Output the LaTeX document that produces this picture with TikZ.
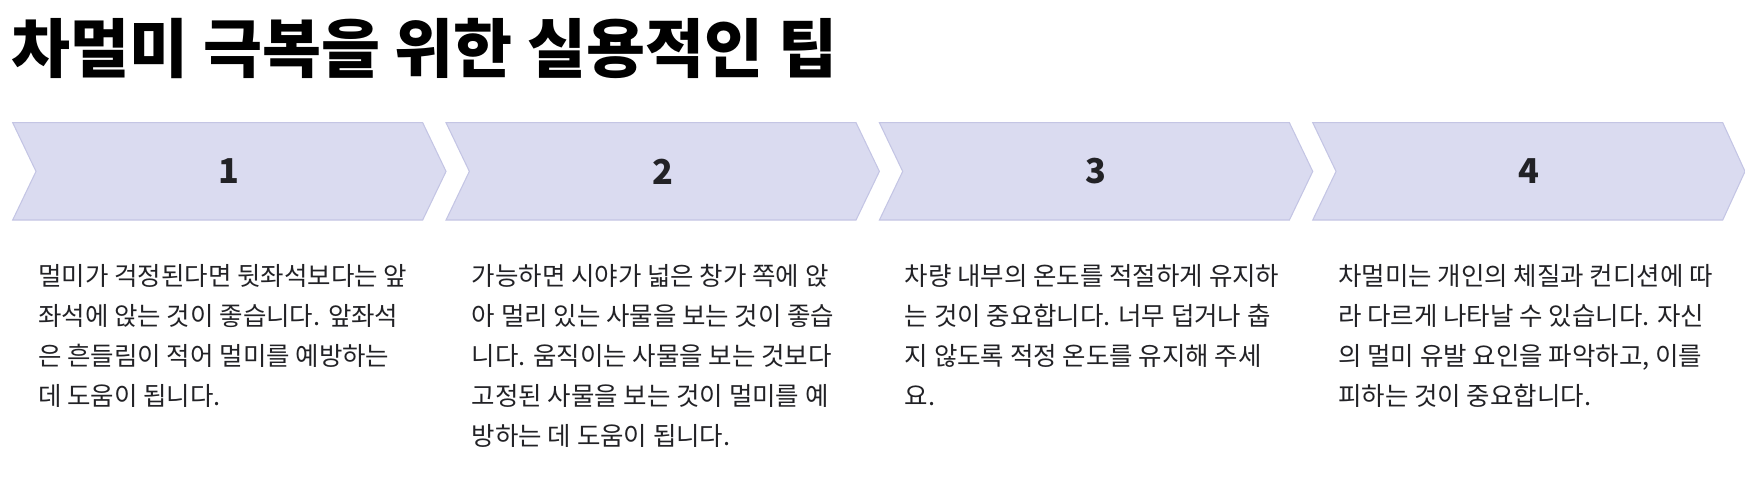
\documentclass[tikz,border=0pt]{standalone}
\usepackage{fontspec}
\setmainfont{Noto Sans CJK KR}
\usepackage{xcolor}
\usepackage{tikz}
\usetikzlibrary{positioning}
\definecolor{chevfill}{RGB}{218,219,240}
\definecolor{chevline}{RGB}{196,197,228}
\definecolor{inkcolor}{RGB}{34,34,38}
\tikzset{
  chev/.style={draw=chevline, fill=chevfill, line width=0.6pt, line join=miter},
  num/.style={font=\fontsize{19.5}{19.5}\selectfont\bfseries, text=inkcolor, inner sep=0pt},
  tip/.style={font=\fontsize{14.5}{22.7}\selectfont, text=inkcolor, align=left, inner sep=0pt, anchor=north west},
  ttl/.style={font=\fontsize{36.5}{40}\selectfont\bfseries, text=black, inner sep=0pt, anchor=base west},
}

\begin{document}
\begin{tikzpicture}
\useasboundingbox (0,0) rectangle (34.9,-9.66);
\node[ttl] (title) at (0.22,-1.45) {차멀미 극복을 위한 실용적인 팁};
% chevrons
\draw[chev] (0.254,-2.454) -- (8.454,-2.454) -- (8.921,-3.428) -- (8.454,-4.40) -- (0.254,-4.40) -- (0.72,-3.428) -- cycle;
\draw[chev] (8.921,-2.454) -- (17.121,-2.454) -- (17.588,-3.428) -- (17.121,-4.40) -- (8.921,-4.40) -- (9.387,-3.428) -- cycle;
\draw[chev] (17.588,-2.454) -- (25.788,-2.454) -- (26.255,-3.428) -- (25.788,-4.40) -- (17.588,-4.40) -- (18.054,-3.428) -- cycle;
\draw[chev] (26.255,-2.454) -- (34.455,-2.454) -- (34.9,-3.428) -- (34.455,-4.40) -- (26.255,-4.40) -- (26.721,-3.428) -- cycle;
\node[num] (n1) at (4.587,-3.428) {1};
\node[num] (n2) at (13.254,-3.428) {2};
\node[num] (n3) at (21.921,-3.428) {3};
\node[num] (n4) at (30.588,-3.428) {4};
% tips
\node[tip] (t1) at (0.76,-5.28) {멀미가 걱정된다면 뒷좌석보다는 앞\\좌석에 앉는 것이 좋습니다. 앞좌석\\은 흔들림이 적어 멀미를 예방하는\\데 도움이 됩니다.};
\node[tip] (t2) at (9.43,-5.28) {가능하면 시야가 넓은 창가 쪽에 앉\\아 멀리 있는 사물을 보는 것이 좋습\\니다. 움직이는 사물을 보는 것보다\\고정된 사물을 보는 것이 멀미를 예\\방하는 데 도움이 됩니다.};
\node[tip] (t3) at (18.09,-5.28) {차량 내부의 온도를 적절하게 유지하\\는 것이 중요합니다. 너무 덥거나 춥\\지 않도록 적정 온도를 유지해 주세\\요.};
\node[tip] (t4) at (26.76,-5.28) {차멀미는 개인의 체질과 컨디션에 따\\라 다르게 나타날 수 있습니다. 자신\\의 멀미 유발 요인을 파악하고, 이를\\피하는 것이 중요합니다.};
\end{tikzpicture}
\end{document}
